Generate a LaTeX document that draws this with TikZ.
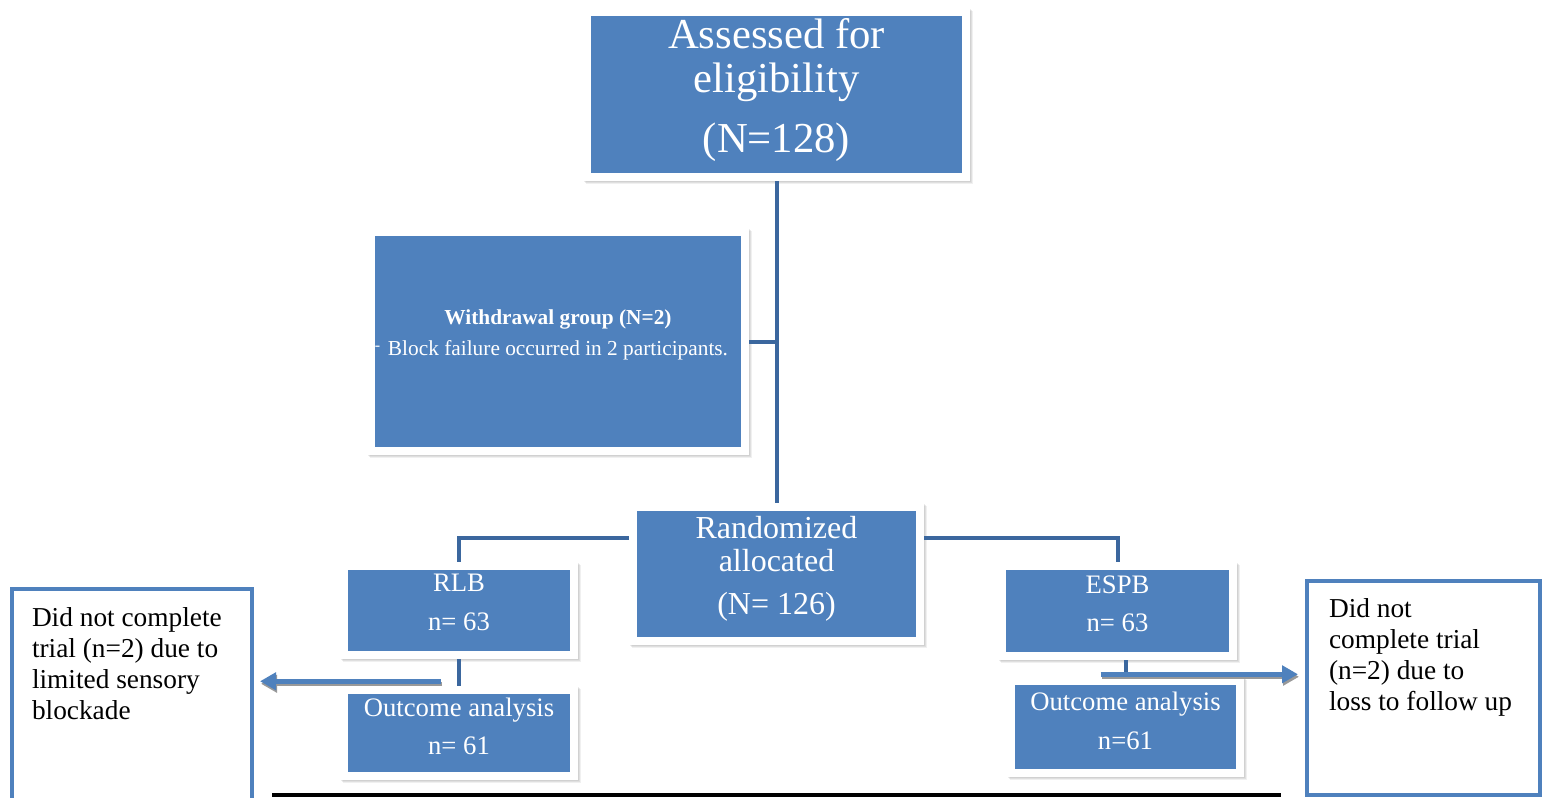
\documentclass[tikz,border=0pt]{standalone}
\usepackage{fontspec}
\setmainfont{Liberation Serif}
\usepackage{tikz}
\usetikzlibrary{calc, arrows.meta, shadows}

\definecolor{boxblue}{HTML}{4F81BD}
\definecolor{linkblue}{HTML}{3B679E}

\def\px{0.75pt}

\tikzset{
	flowbox/.style = {fill = white, inner sep = 0pt, text = white, align = center,
		drop shadow = {shadow xshift = 2.5pt, shadow yshift = -2.5pt, opacity = .12},
		drop shadow = {shadow xshift = 1.5pt, shadow yshift = -1.5pt, opacity = .15},
		drop shadow = {shadow xshift = .5pt, shadow yshift = -.5pt, opacity = .15},
		path picture = {\fill [boxblue] ($(path picture bounding box.south west)+(8*\px,8*\px)$) rectangle ($(path picture bounding box.north east)-(8*\px,8*\px)$);}},
	notebox/.style = {draw = boxblue, line width = 4*\px, fill = white, text = black,
		anchor = north west, font = \fontsize{20.5}{23.25}\selectfont},
	link/.style = {draw = linkblue, line width = 4*\px},
	flowarrow/.style = {draw = boxblue, line width = 4.5*\px, -{Triangle[length = 16*\px, width = 17*\px]}},
	arrowshadow/.style = {flowarrow, draw = black!40}
}

\begin{document}
\begin{tikzpicture}[x = 0.75pt, y = -0.75pt]
	\useasboundingbox (0,0) rectangle (1544,797);
	\clip (0,0) rectangle (1544,797);

	% blue boxes
	\node [flowbox, minimum width = 387*\px, minimum height = 173*\px, text depth = 14pt,
		font = \fontsize{32}{33}\selectfont] (assess) at (776.5,94.5)
		{Assessed for\\eligibility\\[12pt](N=128)};

	\node [flowbox, minimum width = 382*\px, minimum height = 227*\px, text depth = 13pt,
		font = \fontsize{16}{18.25}\selectfont] (withdraw) at (558,341.5)
		{\textbf{Withdrawal group (N=2)}\\[5pt]Block failure occurred in 2 participants.};
	\node [text = white, inner sep = 0pt, font = \fontsize{12}{14}\selectfont] (wdash) at (377.5,348) {-};

	\node [flowbox, minimum width = 295*\px, minimum height = 142*\px, text depth = 13pt,
		font = \fontsize{24}{24.75}\selectfont] (rand) at (776.5,574)
		{Randomized\\allocated\\[8pt](N= 126)};

	\node [flowbox, minimum width = 238*\px, minimum height = 97*\px, text depth = 12pt,
		font = \fontsize{20}{29}\selectfont] (rlb) at (459,610.5) {RLB\\n= 63};
	\node [flowbox, minimum width = 238*\px, minimum height = 94*\px, text depth = 10pt,
		font = \fontsize{20}{29}\selectfont] (outl) at (459,733) {Outcome analysis\\n= 61};

	\node [flowbox, minimum width = 239*\px, minimum height = 98*\px, text depth = 11pt,
		font = \fontsize{20}{29}\selectfont] (esp) at (1117.5,611) {ESPB\\n= 63};
	\node [flowbox, minimum width = 237*\px, minimum height = 100*\px, text depth = 9pt,
		font = \fontsize{20}{29}\selectfont] (outr) at (1125.5,727) {Outcome analysis\\n=61};

	% white boxes
	\node [notebox, inner xsep = 20*\px, inner ysep = 19*\px, minimum width = 240*\px] (lost) at (10,587)
		{\parbox[c][135pt][t]{150pt}{\raggedright Did not complete\\trial (n=2) due to\\limited sensory\\blockade}};
	\node [notebox, inner xsep = 22*\px, inner ysep = 18*\px, minimum width = 233*\px] (follow) at (1305,579)
		{\parbox[c][133.5pt][t]{142pt}{\raggedright Did not\\complete trial\\(n=2) due to\\loss to follow up}};

	% connectors
	\coordinate (rtap) at ($(rand.north west)!0.25!(rand.south west)$);
	\coordinate (lfrom) at ($(rlb.south)+(-18,22)$);
	\coordinate (rfrom) at ($(esp.south)+(-17,14)$);

	\draw [link] (assess.south) -- (rand.north);
	\draw [link] (assess.south |- withdraw.east) -- (withdraw.east);
	\draw [link] (rtap) -| (rlb.north);
	\draw [link] (rtap -| rand.east) -| (esp.north);
	\draw [link] (rlb.south) -- (outl.north);
	\draw [link] (outr.north |- esp.south) -- (outr.north);

	\draw [arrowshadow, shorten > = 6*\px] ([shift = {(1,2.5)}]lfrom) -- ([shift = {(1,2.5)}]lfrom -| lost.east);
	\draw [flowarrow, shorten > = 6*\px] (lfrom) -- (lfrom -| lost.east);
	\draw [arrowshadow, shorten > = 7*\px] ([shift = {(1,2.5)}]rfrom) -- ([shift = {(1,2.5)}]rfrom -| follow.west);
	\draw [flowarrow, shorten > = 7*\px] (rfrom) -- (rfrom -| follow.west);

	\draw [line width = 4*\px] (272,795) -- (1281,795);
\end{tikzpicture}
\end{document}
